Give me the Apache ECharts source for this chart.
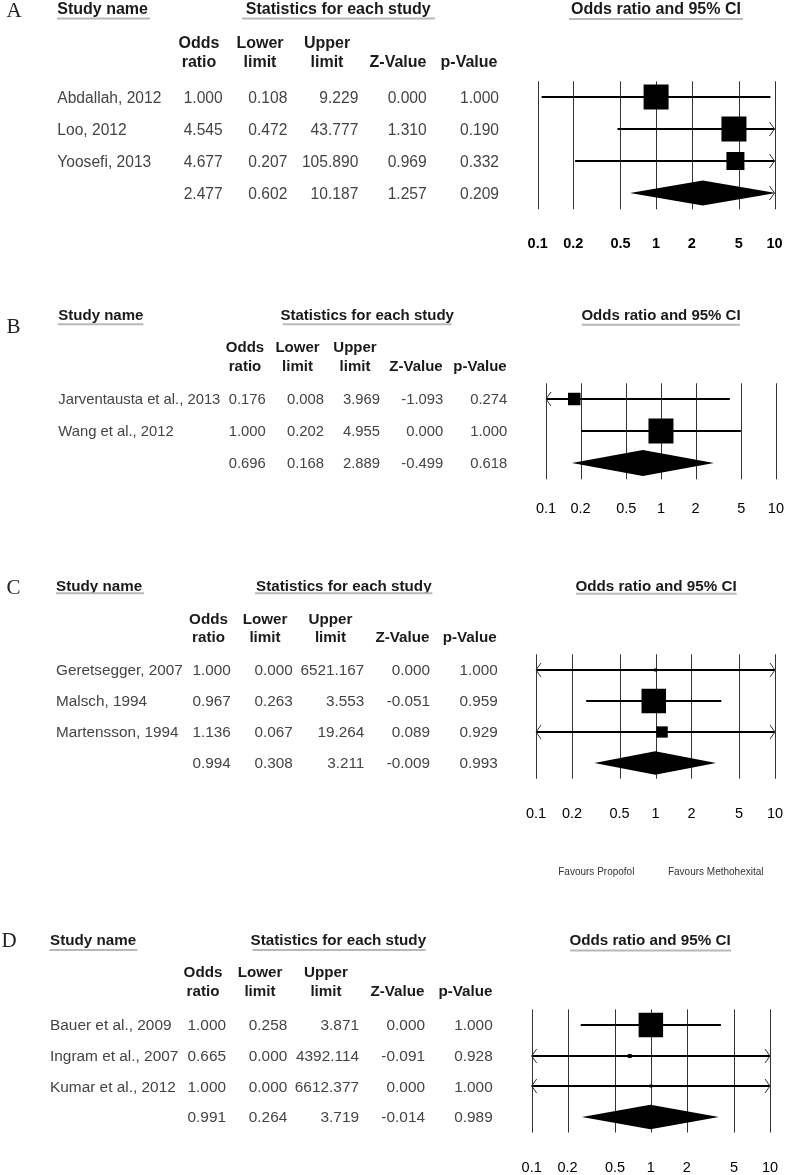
<!DOCTYPE html>
<html><head><meta charset="utf-8">
<script src="https://cdn.jsdelivr.net/npm/echarts@6/dist/echarts.min.js"></script>
<style>html,body{margin:0;padding:0;background:#fff}#c{width:787px;height:1175px}</style>
</head><body><div id="c"></div>
<script>
// ---------- data ----------
const tickValues = [0.1, 0.2, 0.5, 1, 2, 5, 10];
const tickLabels = ['0.1', '0.2', '0.5', '1', '2', '5', '10'];
const columnHeaders = [['Odds', 'ratio'], ['Lower', 'limit'], ['Upper', 'limit'], ['', 'Z-Value'], ['', 'p-Value']];

// Panel A (last value of each array = pooled summary)
const studiesA = ['Abdallah, 2012', 'Loo, 2012', 'Yoosefi, 2013'];
const oddsA  = [1.000, 4.545, 4.677, 2.477];
const lowerA = [0.108, 0.472, 0.207, 0.602];
const upperA = [9.229, 43.777, 105.890, 10.187];
const zA     = [0.000, 1.310, 0.969, 1.257];
const pA     = [1.000, 0.190, 0.332, 0.209];
const weightA = [1.00, 1.00, 0.72];

// Panel B
const studiesB = ['Jarventausta et al., 2013', 'Wang et al., 2012'];
const oddsB  = [0.176, 1.000, 0.696];
const lowerB = [0.008, 0.202, 0.168];
const upperB = [3.969, 4.955, 2.889];
const zB     = [-1.093, 0.000, -0.499];
const pB     = [0.274, 1.000, 0.618];
const weightB = [0.50, 1.00];

// Panel C
const studiesC = ['Geretsegger, 2007', 'Malsch, 1994', 'Martensson, 1994'];
const oddsC  = [1.000, 0.967, 1.136, 0.994];
const lowerC = [0.000, 0.263, 0.067, 0.308];
const upperC = [6521.167, 3.553, 19.264, 3.211];
const zC     = [0.000, -0.051, 0.089, -0.009];
const pC     = [1.000, 0.959, 0.929, 0.993];
const weightC = [0.12, 1.00, 0.46];

// Panel D
const studiesD = ['Bauer et al., 2009', 'Ingram et al., 2007', 'Kumar et al., 2012'];
const oddsD  = [1.000, 0.665, 1.000, 0.991];
const lowerD = [0.258, 0.000, 0.000, 0.264];
const upperD = [3.871, 4392.114, 6612.377, 3.719];
const zD     = [0.000, -0.091, 0.000, -0.014];
const pD     = [1.000, 0.928, 1.000, 0.989];
const weightD = [1.00, 0.16, 0.12];

const favourLabels = ['Favours Propofol', 'Favours Methohexital'];

// ---------- layout ----------
const XMIN = 0.1, XMAX = 10;
const SANS = '"Liberation Sans", Arial, sans-serif';
const SERIF = '"Liberation Serif", "Times New Roman", serif';

const panels = [
  { letter: 'A', studies: studiesA, odds: oddsA, lower: lowerA, upper: upperA, z: zA, p: pA, weight: weightA,
    L: { letterPos: [14, 11], hFont: 16, dFont: 15.6, grid: { left: 537.7, width: 236.8, top: 81.3, height: 128 },
      nameX: 57.3, textY: 10, underY: 18.5, studyUnder: [57, 150], statsCenter: 338.3, statsUnder: [242, 435],
      titleCenter: 656, titleUnder: [569, 743], headY: [44, 63], headCenters: [199, 260, 327, 398, 469],
      colRight: [222.7, 287.3, 358.3, 426.7, 499], labelMargin: 27, labelBold: true, diamondH: 25, boxMax: 25 } },
  { letter: 'B', studies: studiesB, odds: oddsB, lower: lowerB, upper: upperB, z: zB, p: pB, weight: weightB,
    L: { letterPos: [13.5, 327], hFont: 15, dFont: 14.8, grid: { left: 546, width: 231.7, top: 383.3, height: 96 },
      nameX: 58.3, textY: 315.5, underY: 324.3, studyUnder: [57.7, 143.3], statsCenter: 367.2, statsUnder: [282.7, 451.7],
      titleCenter: 661, titleUnder: [581.7, 740], headY: [348, 366.7], headCenters: [245, 297.5, 355, 416, 480],
      colRight: [265.7, 324, 380, 443.3, 507.3], labelMargin: 22, labelBold: false, diamondH: 26, boxMax: 25 } },
  { letter: 'C', studies: studiesC, odds: oddsC, lower: lowerC, upper: upperC, z: zC, p: pC, weight: weightC,
    L: { letterPos: [13.5, 588], hFont: 15.2, dFont: 15.3, grid: { left: 536, width: 239, top: 654.3, height: 124.4 },
      nameX: 56, textY: 586.5, underY: 593.3, studyUnder: [56, 144], statsCenter: 343.8, statsUnder: [255, 432.3],
      titleCenter: 656, titleUnder: [576, 736.7], headY: [620, 637.7], headCenters: [208.5, 265, 330.5, 402.5, 469.7],
      colRight: [230.7, 292.7, 364.3, 430, 497.7], labelMargin: 27.5, labelBold: false, diamondH: 23.5, boxMax: 24.5 } },
  { letter: 'D', studies: studiesD, odds: oddsD, lower: lowerD, upper: upperD, z: zD, p: pD, weight: weightD,
    L: { letterPos: [9, 941], hFont: 15.2, dFont: 15.4, grid: { left: 531.7, width: 238.3, top: 1009.4, height: 124.4 },
      nameX: 50, textY: 941, underY: 950, studyUnder: [49.3, 137.3], statsCenter: 338.3, statsUnder: [252.3, 425.7],
      titleCenter: 650, titleUnder: [570, 731], headY: [973.3, 991.7], headCenters: [203, 260, 326, 397.5, 465.5],
      colRight: [226, 287.3, 359, 425, 492.7], labelMargin: 27.5, labelBold: false, diamondH: 24.5, boxMax: 24.5 } }
];

function txt(text, x, y, font, fill, align) {
  return { type: 'text', silent: true,
    style: { text: text, x: x, y: y, font: font, fill: fill, align: align, textAlign: align,
      verticalAlign: 'middle', textVerticalAlign: 'middle' } };
}
function hline(x1, x2, y, color, w) {
  return { type: 'line', silent: true, shape: { x1: x1, y1: y, x2: x2, y2: y }, style: { stroke: color, lineWidth: w } };
}

const grids = [], xAxes = [], yAxes = [], series = [], graphics = [];

panels.forEach((P, pi) => {
  const L = P.L;
  const n = P.studies.length;
  grids.push(Object.assign({ containLabel: false }, L.grid));
  xAxes.push({
    type: 'log', logBase: 10, min: XMIN, max: XMAX, gridIndex: pi,
    axisLine: { show: false }, axisTick: { show: false }, splitLine: { show: false },
    axisLabel: {
      show: true, customValues: tickValues, margin: L.labelMargin, hideOverlap: false,
      showMinLabel: true, showMaxLabel: true,
      formatter: v => { const k = tickValues.findIndex(t => Math.abs(t - v) < 1e-9); return k >= 0 ? tickLabels[k] : ''; },
      color: '#000', fontSize: 14.5, fontFamily: SANS, fontWeight: L.labelBold ? 'bold' : 'normal'
    }
  });
  yAxes.push({ type: 'value', min: 0.5, max: n + 1.5, inverse: true, gridIndex: pi, show: false });

  // vertical grid lines at tick values
  series.push({
    type: 'custom', xAxisIndex: pi, yAxisIndex: pi, z: 1, silent: true, animation: false,
    data: tickValues.map(t => [t, 0.5]), encode: { x: 0, y: 1 },
    renderItem: (params, api) => {
      const t = api.value(0);
      const a = api.coord([t, 0.5]), b = api.coord([t, n + 1.5]);
      const x = Math.round(a[0]) + 0.5;
      return { type: 'line', shape: { x1: x, y1: a[1], x2: x, y2: b[1] }, style: { stroke: '#333', lineWidth: 1 } };
    }
  });

  // forest marks (boxes, whiskers, diamond)
  series.push({
    type: 'custom', xAxisIndex: pi, yAxisIndex: pi, z: 2, silent: true, animation: false,
    data: P.odds.map((v, i) => [v, i + 1, P.lower[i], P.upper[i]]), encode: { x: 0, y: 1 },
    renderItem: (params, api) => {
      const i = params.dataIndex;
      const or = api.value(0), row = api.value(1), lo = api.value(2), hi = api.value(3);
      const y = Math.round(api.coord([1, row])[1]);
      const xL = api.coord([Math.max(lo, XMIN), row])[0];
      const xR = api.coord([Math.min(hi, XMAX), row])[0];
      const xO = api.coord([or, row])[0];
      const ch = [];
      const isSum = i === n;
      if (!isSum) {
        ch.push({ type: 'line', shape: { x1: xL, y1: y, x2: xR, y2: y }, style: { stroke: '#000', lineWidth: 2 } });
        const s = Math.max(3, L.boxMax * P.weight[i]);
        ch.push({ type: 'rect', shape: { x: xO - s / 2, y: y - s / 2, width: s, height: s }, style: { fill: '#000' } });
      } else {
        const h = L.diamondH / 2;
        const xHiRaw = api.coord([hi, row])[0];
        const xLoRaw = api.coord([Math.max(lo, 1e-6), row])[0];
        const pts = [];
        if (lo < XMIN) { const d = h * (xL - xLoRaw) / (xO - xLoRaw); pts.push([xL, y + d], [xL, y - d]); }
        else pts.push([xL, y]);
        pts.push([xO, y - h]);
        if (hi > XMAX) { const d = h * (xHiRaw - xR) / (xHiRaw - xO); pts.push([xR, y - d], [xR, y + d]); }
        else pts.push([xR, y]);
        pts.push([xO, y + h]);
        ch.push({ type: 'polygon', shape: { points: pts }, style: { fill: '#000' } });
      }
      if (lo < XMIN) ch.push({ type: 'polyline', shape: { points: [[xL + 5, y - 7], [xL, y], [xL + 5, y + 7]] }, style: { stroke: '#333', lineWidth: 1, fill: null } });
      if (hi > XMAX) ch.push({ type: 'polyline', shape: { points: [[xR - 5, y - 7], [xR, y], [xR - 5, y + 7]] }, style: { stroke: '#333', lineWidth: 1, fill: null } });
      return { type: 'group', children: ch };
    }
  });

  // statistics table, rows aligned on the forest y axis
  series.push({
    type: 'custom', xAxisIndex: pi, yAxisIndex: pi, z: 3, silent: true, animation: false,
    data: P.odds.map((v, i) => [1, i + 1]), encode: { x: 0, y: 1 },
    renderItem: (params, api) => {
      const i = params.dataIndex;
      const y = api.coord([1, api.value(1)])[1] + 1;
      const font = L.dFont + 'px ' + SANS;
      const ch = [];
      if (i < n) ch.push(txt(P.studies[i], L.nameX, y, font, '#444', 'left'));
      [P.odds[i], P.lower[i], P.upper[i], P.z[i], P.p[i]].forEach((v, k) => {
        ch.push(txt(v.toFixed(3), L.colRight[k], y, font, '#444', 'right'));
      });
      return { type: 'group', children: ch };
    }
  });

  // headers
  const hb = 'bold ' + L.hFont + 'px ' + SANS;
  graphics.push(txt(P.letter, L.letterPos[0], L.letterPos[1], '21px ' + SERIF, '#222', 'center'));
  graphics.push(txt('Study name', L.nameX, L.textY, hb, '#1a1a1a', 'left'));
  graphics.push(hline(L.studyUnder[0], L.studyUnder[1], L.underY, '#b8b8b8', 2));
  graphics.push(txt('Statistics for each study', L.statsCenter, L.textY, hb, '#1a1a1a', 'center'));
  graphics.push(hline(L.statsUnder[0], L.statsUnder[1], L.underY, '#b8b8b8', 2));
  graphics.push(txt('Odds ratio and 95% CI', L.titleCenter, L.textY, hb, '#1a1a1a', 'center'));
  graphics.push(hline(L.titleUnder[0], L.titleUnder[1], L.underY + 0.5, '#b8b8b8', 2));
  columnHeaders.forEach((h, k) => {
    if (h[0]) graphics.push(txt(h[0], L.headCenters[k], L.headY[0], hb, '#1a1a1a', 'center'));
    graphics.push(txt(h[1], L.headCenters[k], L.headY[1], hb, '#1a1a1a', 'center'));
  });
});

// favours labels under panel C
graphics.push(txt(favourLabels[0], 596.3, 872, '10px ' + SANS, '#333', 'center'));
graphics.push(txt(favourLabels[1], 715.7, 872, '10px ' + SANS, '#333', 'center'));

const chart = echarts.init(document.getElementById('c'), null, { renderer: 'canvas' });
chart.setOption({
  backgroundColor: '#fff',
  animation: false,
  grid: grids, xAxis: xAxes, yAxis: yAxes, series: series,
  graphic: { elements: graphics }
});
</script>
</body></html>
